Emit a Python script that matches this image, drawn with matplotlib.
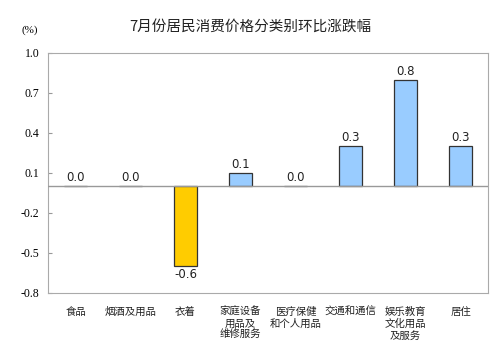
import matplotlib
matplotlib.use("Agg")
import matplotlib.pyplot as plt

plt.rcParams['font.family'] = ['Noto Sans CJK SC', 'DejaVu Sans']

categories = ["食品", "烟酒及用品", "衣着", "家庭设备\n用品及\n维修服务", "医疗保健\n和个人用品",
              "交通和通信", "娱乐教育\n文化用品\n及服务", "居住"]
values = [0.0, 0.0, -0.6, 0.1, 0.0, 0.3, 0.8, 0.3]
yticks = [-0.8, -0.5, -0.2, 0.1, 0.4, 0.7, 1.0]

fig = plt.figure(figsize=(5.0, 3.58), dpi=100)
ax = fig.add_axes([0.096, 0.1816, 0.88, 0.6704])

x = list(range(len(categories)))
colors = ['#FFCC00' if v < 0 else '#99CCFF' for v in values]
ax.bar(x, values, width=0.42, color=colors, edgecolor='#333333', linewidth=0.9, zorder=3)
ax.axhline(0, color='#999999', linewidth=1.0, zorder=4)

for xi, v in zip(x, values):
    if v < 0:
        ax.text(xi, v - 0.01, f"{v:.1f}", ha='center', va='top', fontsize=8.5, family='DejaVu Sans', color='#222222')
    else:
        ax.text(xi, v + 0.015, f"{v:.1f}", ha='center', va='bottom', fontsize=8.5, family='DejaVu Sans', color='#222222')

ax.set_xlim(-0.5, len(categories) - 0.5)
ax.set_ylim(-0.8, 1.0)
ax.set_yticks(yticks)
ax.set_yticklabels([f"{t:.1f}" for t in yticks], family='Liberation Serif', fontsize=8.5)
ax.tick_params(axis='y', direction='in', length=3, color='#999999', pad=6)
ax.set_xticks(x)
ax.set_xticklabels(categories, fontsize=7.5, linespacing=1.2, va='top', color='#222222')
ax.tick_params(axis='x', length=0, pad=10)
for s in ax.spines.values():
    s.set_color('#AAAAAA')
    s.set_linewidth(0.8)

fig.text(0.5, 0.925, "7月份居民消费价格分类别环比涨跌幅", ha='center', va='center', fontsize=10.5, color='#222222')
fig.text(0.06, 0.915, "(%)", ha='center', va='center', fontsize=8, family='Liberation Serif')

fig.savefig("out.png", dpi=100)
